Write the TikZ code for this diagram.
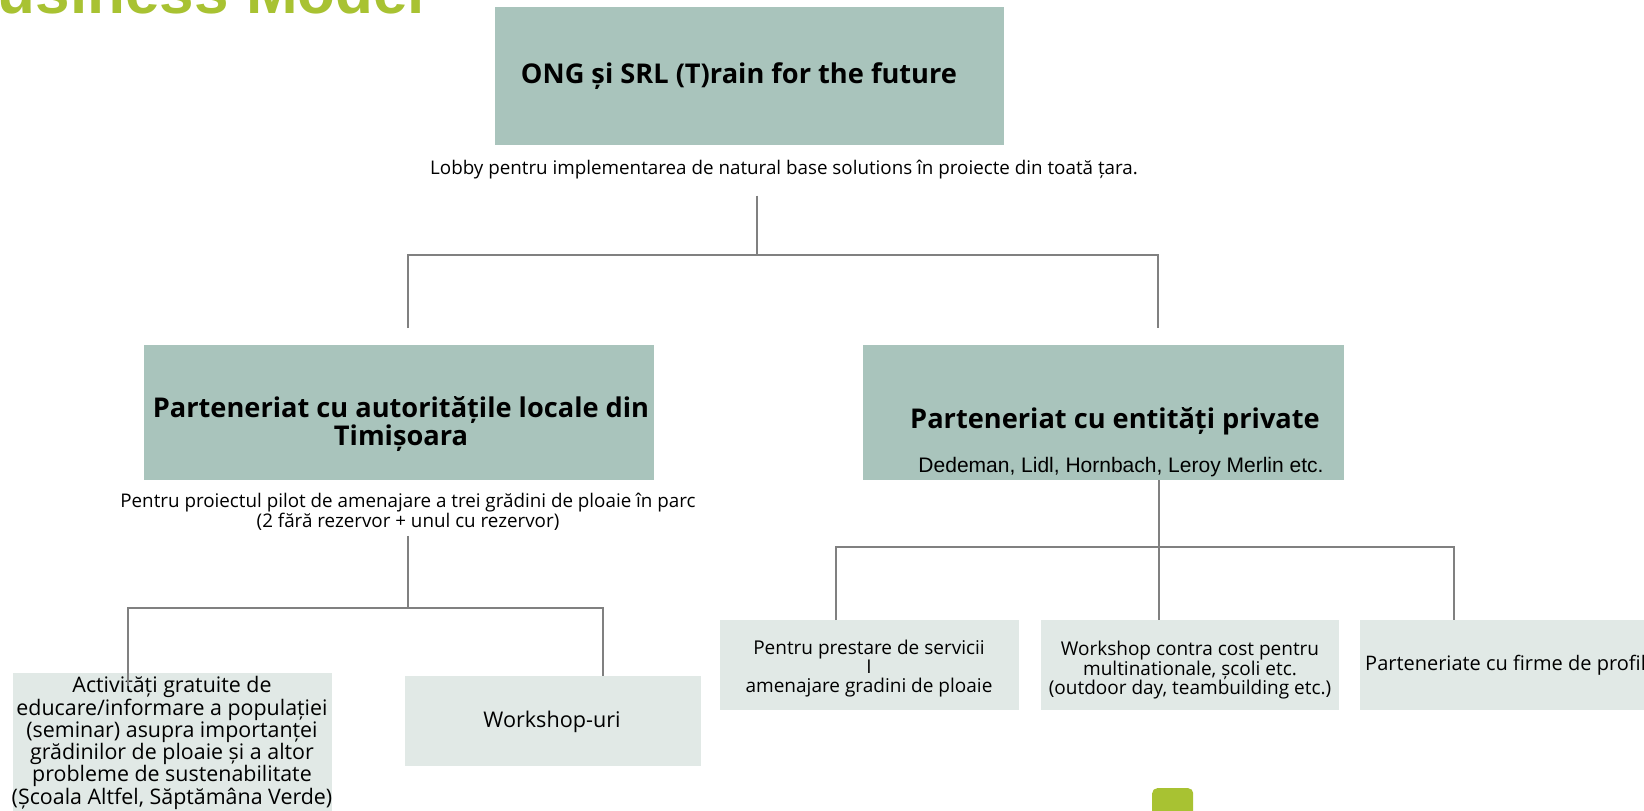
\documentclass[tikz,border=0pt]{standalone}
\usepackage{fontspec}
\setmainfont{Open Sans}
\newfontfamily\plainsans{Liberation Sans}
\definecolor{sage}{HTML}{A9C4BC}
\definecolor{mist}{HTML}{E1E9E6}
\definecolor{wire}{HTML}{808080}
\definecolor{lime}{HTML}{A8C232}
\tikzset{
  darkbox/.style={fill=sage, inner sep=0pt},
  lightbox/.style={fill=mist, inner sep=0pt, anchor=north west},
  headline/.style={font=\fontsize{27.2}{28}\selectfont\bfseries, align=center, inner sep=0pt},
  note/.style={font=\fontsize{18.8}{20}\selectfont, align=center, inner sep=0pt},
  leaf/.style={font=\fontsize{19}{19}\selectfont, align=center, inner sep=0pt},
  link/.style={draw=wire, line width=1.6pt},
}
\begin{document}
\begin{tikzpicture}[x=1pt, y=-1pt]
    \useasboundingbox (0,0) rectangle (1644,811);
    \clip (0,0) rectangle (1644,811);

    %title
    \node[anchor=base west, inner sep=0pt, text=lime, font=\plainsans\fontsize{62}{70}\selectfont\bfseries] (title) at (-47,13) {Business Model};

    %top
    \node[darkbox, minimum width=509, minimum height=138] (ong) at (749.5,76) {};
    \node[headline] (ongtxt) at (739,76) {ONG și SRL (T)rain for the future};
    \node[note] (lobby) at (784,170) {Lobby pentru implementarea de natural base solutions în proiecte din toată țara.};

    %middle
    \node[darkbox, minimum width=510, minimum height=135] (local) at (399,412.5) {};
    \node[headline] (localtxt) at (401,424) {Parteneriat cu autoritățile locale din\\Timișoara};
    \node[note] (pilot) at (408,512) {Pentru proiectul pilot de amenajare a trei grădini de ploaie în parc\\(2 fără rezervor + unul cu rezervor)};

    \node[darkbox, minimum width=481, minimum height=135] (private) at (1103.5,412.5) {};
    \node[headline] (privtxt) at (1115,421) {Parteneriat cu entități private};
    \node[note, font=\plainsans\fontsize{21}{22}\selectfont] (brands) at (1121,467) {Dedeman, Lidl, Hornbach, Leroy Merlin etc.};

    %bottom left
    \node[lightbox, minimum width=319, minimum height=140] (free) at (13,673) {};
    \node[leaf, font=\fontsize{21.4}{20}\selectfont] (freetxt) at (172,743) {Activități gratuite de\\educare/informare a populației\\(seminar) asupra importanței\\grădinilor de ploaie și a altor\\probleme de sustenabilitate\\(Școala Altfel, Săptămâna Verde)};
    \node[lightbox, minimum width=296, minimum height=90] (work) at (405,676) {};
    \node[leaf, font=\fontsize{21.6}{22}\selectfont] (worktxt) at (552,722) {Workshop-uri};

    %bottom right
    \node[lightbox, minimum width=299, minimum height=90] (service) at (720,620) {};
    \node[leaf] (servicetxt) at (869,669) {Pentru prestare de servicii\\I\\amenajare gradini de ploaie};
    \node[lightbox, minimum width=298, minimum height=90] (paid) at (1041,620) {};
    \node[leaf, font=\fontsize{19}{17}\selectfont] (paidtxt) at (1190,670) {Workshop contra cost pentru\\multinationale, școli etc.\\(outdoor day, teambuilding etc.)};
    \node[lightbox, minimum width=320, minimum height=90] (profil) at (1360,620) {};
    \node[leaf, anchor=west, font=\fontsize{20}{20}\selectfont] (profiltxt) at (1365,665) {Parteneriate cu firme de profil};

    \node[fill=lime, rounded corners=5pt, minimum width=41, minimum height=40, anchor=north west, inner sep=0pt] (tab) at (1152,788) {};

    %connectors
    \coordinate (hub) at (757,255);
    \coordinate (lend) at (408,328);
    \coordinate (rend) at (1158,328);
    \draw[link, shorten <=16pt] (lobby.south -| hub) -- (hub);
    \draw[link] (lend) |- (hub) -| (rend);

    \coordinate (hubl) at (408,608);
    \coordinate (freeend) at (128,686);
    \coordinate (workend) at (603,676);
    \draw[link, shorten <=5pt] (pilot.south) -- (hubl);
    \draw[link] (freeend) |- (hubl) -| (workend);

    \coordinate (hubr) at (1159,547);
    \draw[link] (private.south -| hubr) -- (hubr);
    \draw[link] (service.north -| 836,0) |- (hubr) -| (profil.north -| 1454,0);
    \draw[link] (hubr) -- (paid.north -| hubr);
\end{tikzpicture}
\end{document}
